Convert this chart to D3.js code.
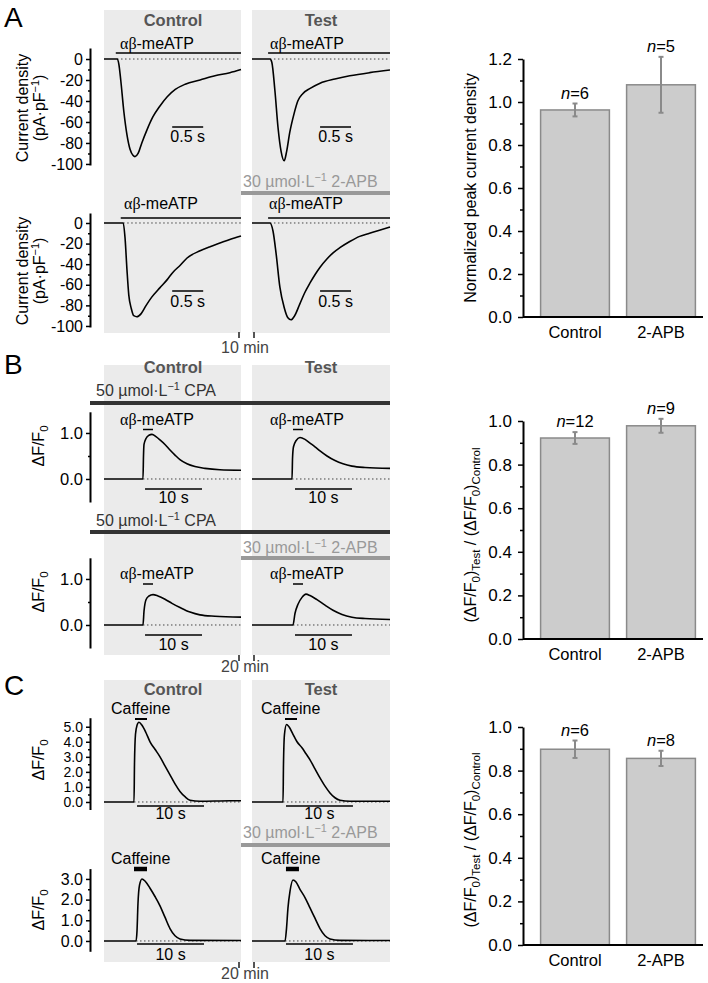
<!DOCTYPE html>
<html><head><meta charset="utf-8">
<script src="https://cdn.jsdelivr.net/npm/d3@7"></script>
<style>body{margin:0;background:#fff} svg text{font-family:"Liberation Sans",Arial,sans-serif}</style>
</head><body><script>
// ---------------- DATA ----------------
// Panel A: current density traces, [time (s), pA/pF]
const traceA1Control = [[0,0],[0.21,0],[0.24,-5],[0.27,-20],[0.32,-50],[0.37,-72],[0.42,-86],[0.47,-92],[0.50,-93],[0.55,-90],[0.61,-80],[0.69,-68],[0.79,-55],[0.90,-45],[1.02,-36],[1.15,-29],[1.31,-24],[1.55,-20],[1.79,-16],[2.03,-13],[2.21,-10]];
const traceA1Test    = [[0,0],[0.29,0],[0.32,-3],[0.37,-30],[0.42,-65],[0.47,-88],[0.52,-97],[0.56,-88],[0.61,-70],[0.68,-52],[0.74,-40],[0.82,-33],[0.94,-28],[1.10,-23],[1.34,-19],[1.58,-16],[1.90,-13],[2.23,-10.5]];
const traceA2Control = [[0,0],[0.31,0],[0.34,-15],[0.37,-45],[0.40,-70],[0.44,-83],[0.48,-90],[0.53,-91],[0.60,-88],[0.68,-80],[0.77,-72],[0.90,-63],[1.02,-55],[1.11,-48],[1.23,-41],[1.34,-34],[1.55,-27],[1.71,-23],[1.87,-19.5],[2.03,-16],[2.21,-12.6]];
const traceA2Test    = [[0,0],[0.29,0],[0.34,-8],[0.39,-30],[0.45,-62],[0.52,-82],[0.58,-92],[0.63,-94],[0.69,-90],[0.77,-79],[0.85,-68],[0.94,-58],[1.02,-50],[1.10,-43],[1.21,-35],[1.31,-29],[1.42,-24],[1.58,-18],[1.74,-13],[1.90,-10],[2.06,-7],[2.23,-4]];
// Panel B: Ca2+ fluorescence, [time (s), ΔF/F0]
const traceB1Control = [[0,0],[6.84,0],[6.93,0.5],[7.02,0.75],[7.37,0.88],[7.89,0.95],[8.42,0.97],[9.12,0.92],[9.82,0.85],[10.70,0.75],[11.58,0.63],[12.46,0.52],[13.33,0.42],[14.56,0.33],[15.96,0.27],[17.72,0.23],[20.35,0.20],[24.04,0.19]];
const traceB1Test    = [[0,0],[7.02,0],[7.11,0.45],[7.28,0.70],[7.72,0.83],[8.42,0.90],[9.30,0.86],[10.18,0.78],[11.05,0.70],[11.93,0.61],[13.16,0.50],[14.56,0.40],[15.96,0.33],[17.54,0.28],[19.82,0.25],[24.21,0.23]];
const traceB2Control = [[0,0],[6.84,0],[7.02,0.30],[7.37,0.55],[7.89,0.63],[8.60,0.66],[9.47,0.63],[10.70,0.56],[11.93,0.47],[13.33,0.38],[15.09,0.28],[16.84,0.22],[19.47,0.19],[24.04,0.17]];
const traceB2Test    = [[0,0],[7.19,0],[7.54,0.25],[8.07,0.45],[8.77,0.60],[9.47,0.67],[10.18,0.64],[11.40,0.55],[12.81,0.43],[14.21,0.32],[15.79,0.23],[17.54,0.17],[19.82,0.14],[24.21,0.12]];
// Panel C: caffeine responses, [time (s), ΔF/F0]
const traceC1Control = [[0,0],[4.48,0],[4.55,2.5],[4.70,4.5],[4.93,5.1],[5.22,5.3],[5.67,5.1],[6.27,4.6],[6.87,4.0],[7.61,3.5],[8.36,3.0],[9.10,2.4],[9.85,1.8],[10.60,1.2],[11.34,0.7],[12.09,0.35],[12.84,0.12],[14.33,0.05],[18.81,0.08],[20.45,0.08]];
const traceC1Test    = [[0,0],[4.63,0],[4.70,2.5],[4.85,4.5],[5.15,5.15],[5.52,5.0],[6.12,4.5],[6.72,4.0],[7.46,3.6],[8.06,3.2],[8.66,2.8],[9.40,2.2],[10.15,1.6],[10.90,1.05],[11.64,0.6],[12.39,0.28],[13.13,0.12],[14.63,0.05],[20.60,0.05]];
const traceC2Control = [[0,0],[4.78,0],[4.93,0.5],[5.07,1.8],[5.30,2.7],[5.67,3.0],[6.12,2.9],[6.87,2.55],[7.61,2.15],[8.36,1.7],[9.10,1.15],[9.85,0.6],[10.60,0.25],[11.34,0.1],[12.84,0.03],[20.45,0.02]];
const traceC2Test    = [[0,0],[4.93,0],[5.15,0.6],[5.37,1.6],[5.67,2.4],[6.12,2.95],[6.57,2.85],[7.16,2.5],[7.91,2.1],[8.66,1.6],[9.40,1.1],[10.15,0.6],[10.90,0.25],[11.64,0.1],[13.13,0.03],[20.60,0.02]];
// Trace axes ticks
const ticksA = [0,-20,-40,-60,-80,-100];
const minorA = [-10,-30,-50,-70,-90];
const ticksB = [0,1];
const minorB = [0.5];
const ticksC1 = [0,1,2,3,4,5];
const minorC1 = [0.5,1.5,2.5,3.5,4.5];
const ticksC2 = [0,1,2,3];
const minorC2 = [0.5,1.5,2.5];
// Bar charts
const barCategories = ["Control","2-APB"];
const barAMean = [0.963,1.080], barASem = [0.030,0.130], barAN = [6,5];
const barBMean = [0.922,0.978], barBSem = [0.027,0.032], barBN = [12,9];
const barCMean = [0.898,0.856], barCSem = [0.040,0.035], barCN = [6,8];
const barATicks = [0,0.2,0.4,0.6,0.8,1.0,1.2];
const barBCTicks = [0,0.2,0.4,0.6,0.8,1.0];

// ---------------- DRAWING ----------------
const svg = d3.select("body").append("svg").attr("width",708).attr("height",983);
const BG = "#ebebeb";
const SANS = '"Liberation Sans",Arial,sans-serif';

function rich(g, x, y, segs, o={}) {
  const size = o.size || 16;
  const t = g.append("text").attr("x",x).attr("y",y).attr("font-size",size).attr("fill",o.fill||"#000");
  if (o.anchor) t.attr("text-anchor",o.anchor);
  if (o.weight) t.attr("font-weight",o.weight);
  if (o.transform) t.attr("transform",o.transform);
  let shift = 0;
  segs.forEach(s => {
    if (typeof s === "string") s = {t:s};
    const sp = t.append("tspan").text(s.t);
    let target = 0, fs = size;
    if (s.sub) { target = size*0.28; fs = size*0.72; }
    if (s.sup) { target = -size*0.38; fs = size*0.68; }
    if (target !== shift) { sp.attr("dy", target - shift); shift = target; }
    if (fs !== size) sp.attr("font-size", fs);
    if (s.it) sp.attr("font-style","italic");
    if (s.serif) sp.attr("font-family",'"Liberation Serif","Times New Roman",serif');
  });
  return t;
}

const ctrlX = [104,241], testX = [252,390];

// gray panels
[[10,333],[365,655],[680,962]].forEach(([y0,y1]) => {
  [ctrlX,testX].forEach(xr => svg.append("rect").attr("x",xr[0]).attr("y",y0)
    .attr("width",xr[1]-xr[0]).attr("height",y1-y0).attr("fill",BG));
});

// panel letters
[["A",27],["B",374],["C",695]].forEach(([l,y]) =>
  svg.append("text").attr("x",4).attr("y",y).attr("font-size",28).text(l));

// headers
[26,373,695].forEach(y => {
  svg.append("text").attr("x",173).attr("y",y).attr("text-anchor","middle").attr("font-size",16.5)
    .attr("font-weight","bold").attr("fill","#555").text("Control");
  svg.append("text").attr("x",321).attr("y",y).attr("text-anchor","middle").attr("font-size",16.5)
    .attr("font-weight","bold").attr("fill","#555").text("Test");
});

// drug bars
function drugBar(text, textY, lineY, x0, color, tx) {
  rich(svg, tx, textY, text, {fill: color});
  svg.append("line").attr("x1",x0).attr("x2",390).attr("y1",lineY).attr("y2",lineY)
    .attr("stroke",color).attr("stroke-width",4);
}
const apb = ["30 µmol·L",{t:"−1",sup:true}," 2-APB"];
const cpa = ["50 µmol·L",{t:"−1",sup:true}," CPA"];
drugBar(apb, 187, 193, 241, "#999", 243);
drugBar(cpa, 396, 403, 90, "#333", 96);
drugBar(cpa, 526, 532, 90, "#333", 96);
drugBar(apb, 553, 558, 241, "#999", 243);
drugBar(apb, 838, 845, 241, "#999", 243);

// break markers + time labels
[[332,353,"10 min"],[655,672,"20 min"],[962,979,"20 min"]].forEach(([y,ty,lab]) => {
  [239,254].forEach(x => svg.append("line").attr("x1",x).attr("x2",x).attr("y1",y).attr("y2",y+6)
    .attr("stroke","#555").attr("stroke-width",2));
  svg.append("text").attr("x",245).attr("y",ty).attr("text-anchor","middle").attr("font-size",16)
    .attr("fill","#444").text(lab);
});

const ab = [{t:"αβ",serif:true},"-meATP"];
const rows = [
  {ctrl:traceA1Control, test:traceA1Test, dur:[2.21,2.23], yDom:[-101,10.5], yRange:[165,48],
   major:ticksA, minor:minorA, fmt:d=>String(d), tfs:16,
   ag:{text:ab, tx:[120,270], ty:49, y:53, ctrl:[0.19,2.21], test:[0.26,2.23], w:1.5},
   sc:{y:127, ctrl:[1.1,1.6], test:[1.1,1.6], label:"0.5 s", ly:142}, ylab:"cur", ylabY:108},
  {ctrl:traceA2Control, test:traceA2Test, dur:[2.21,2.23], yDom:[-101,9.7], yRange:[327,213],
   major:ticksA, minor:minorA, fmt:d=>String(d), tfs:16,
   ag:{text:ab, tx:[124,269], ty:209, y:218, ctrl:[0.27,2.21], test:[0.26,2.23], w:1.5},
   sc:{y:291, ctrl:[1.1,1.6], test:[1.1,1.6], label:"0.5 s", ly:307}, ylab:"cur", ylabY:271},
  {ctrl:traceB1Control, test:traceB1Test, dur:[24.04,24.21], yDom:[-0.5,1.46], yRange:[502,411.8],
   major:ticksB, minor:minorB, fmt:d3.format(".1f"), tfs:16.5,
   ag:{text:ab, tx:[120,270], ty:425, y:429.5, ctrl:[6.84,8.6], test:[7.19,8.95], w:1.5},
   sc:{y:489, ctrl:[7.2,17.2], test:[7.54,17.54], label:"10 s", ly:503}, ylab:"df", ylabY:446},
  {ctrl:traceB2Control, test:traceB2Test, dur:[24.04,24.21], yDom:[-0.5,1.46], yRange:[648,557.8],
   major:ticksB, minor:minorB, fmt:d3.format(".1f"), tfs:16.5,
   ag:{text:ab, tx:[120,270], ty:579, y:584, ctrl:[6.84,8.6], test:[7.19,8.95], w:1.5},
   sc:{y:635, ctrl:[7.2,17.2], test:[7.54,17.54], label:"10 s", ly:650}, ylab:"df", ylabY:592},
  {ctrl:traceC1Control, test:traceC1Test, dur:[20.45,20.6], yDom:[-0.5,5.6], yRange:[809.5,717.7],
   major:ticksC1, minor:minorC1, fmt:d3.format(".1f"), tfs:14,
   ag:{text:["Caffeine"], tx:[111,261], ty:714, y:719, ctrl:[4.63,6.42], test:[4.93,6.72], w:2},
   sc:{y:806, ctrl:[4.93,14.93], test:[5.07,15.07], label:"10 s", ly:819}, ylab:"df", ylabY:760},
  {ctrl:traceC2Control, test:traceC2Test, dur:[20.45,20.6], yDom:[-0.5,3.5], yRange:[951.3,868.6],
   major:ticksC2, minor:minorC2, fmt:d3.format(".1f"), tfs:16,
   ag:{text:["Caffeine"], tx:[111,261], ty:864, y:869, ctrl:[4.48,6.42], test:[5.07,7.01], w:4.5},
   sc:{y:944, ctrl:[4.93,14.93], test:[5.07,15.07], label:"10 s", ly:960}, ylab:"df", ylabY:910},
];

rows.forEach(r => {
  const y = d3.scaleLinear().domain(r.yDom).range(r.yRange);
  // axis
  const g = svg.append("g").attr("transform","translate(90,0)");
  g.call(d3.axisLeft(y).tickValues(r.major).tickSize(4).tickSizeOuter(0).tickPadding(3).tickFormat(r.fmt));
  g.append("g").call(d3.axisLeft(y).tickValues(r.minor).tickSize(2).tickSizeOuter(0).tickFormat(""))
    .select(".domain").remove();
  g.selectAll(".domain").attr("stroke-width",2);
  g.selectAll(".tick line").attr("stroke-width",1.5);
  g.selectAll(".tick text").attr("font-size",r.tfs).attr("font-family",SANS);
  // y label
  if (r.ylab === "cur") {
    rich(svg, 0, 0, ["Current density"], {anchor:"middle", transform:`translate(28,${r.ylabY}) rotate(-90)`});
    rich(svg, 0, 0, ["(pA·pF",{t:"−1",sup:true},")"], {anchor:"middle", transform:`translate(45,${r.ylabY}) rotate(-90)`});
  } else {
    rich(svg, 0, 0, ["ΔF/F",{t:"0",sub:true}], {anchor:"middle", transform:`translate(44,${r.ylabY}) rotate(-90)`});
  }
  [["ctrl",ctrlX,0],["test",testX,1]].forEach(([k,xr,i]) => {
    const x = d3.scaleLinear().domain([0, r.dur[i]]).range(xr);
    const data = r[k];
    const onset = data.find(d => d[1] !== 0 && d[0] > 0);
    const onsetT = data[data.indexOf(onset)-1][0];
    // dotted zero line
    svg.append("line").attr("x1",x(onsetT)).attr("x2",xr[1]).attr("y1",y(0)).attr("y2",y(0))
      .attr("stroke","#444").attr("stroke-width",1).attr("stroke-dasharray","1.5,2.5");
    // trace
    svg.append("path").datum(data).attr("fill","none").attr("stroke","#000").attr("stroke-width",1.6)
      .attr("stroke-linejoin","round")
      .attr("d", d3.line().x(d=>x(d[0])).y(d=>y(d[1])).curve(d3.curveMonotoneX));
    // agonist
    rich(svg, r.ag.tx[i], r.ag.ty, r.ag.text);
    svg.append("line").attr("x1",x(r.ag[k][0])).attr("x2",x(r.ag[k][1])).attr("y1",r.ag.y).attr("y2",r.ag.y)
      .attr("stroke","#000").attr("stroke-width",r.ag.w);
    // scale bar
    const s0 = x(r.sc[k][0]), s1 = x(r.sc[k][1]);
    svg.append("line").attr("x1",s0).attr("x2",s1).attr("y1",r.sc.y).attr("y2",r.sc.y)
      .attr("stroke","#000").attr("stroke-width",1.5);
    svg.append("text").attr("x",(s0+s1)/2).attr("y",r.sc.ly).attr("text-anchor","middle")
      .attr("font-size",16).text(r.sc.label);
  });
});

// ---------------- BAR CHARTS ----------------
function barChart(mean, sem, n, ticks, max, y0, y1, ylabSegs, ylabY) {
  const x = d3.scaleBand().domain(barCategories).range([532,704]).paddingInner(0.2).paddingOuter(0.1);
  const y = d3.scaleLinear().domain([0,max]).range([y0,y1]);
  const g = svg.append("g");
  g.selectAll("rect").data(barCategories).join("rect")
    .attr("x",d=>x(d)).attr("width",x.bandwidth())
    .attr("y",(d,i)=>y(mean[i])).attr("height",(d,i)=>y(0)-y(mean[i]))
    .attr("fill","#cccccc").attr("stroke","#8a8a8a").attr("stroke-width",1.5);
  barCategories.forEach((c,i) => {
    const cx = x(c) + x.bandwidth()/2;
    const top = y(mean[i]+sem[i]), bot = y(mean[i]-sem[i]);
    g.append("line").attr("x1",cx).attr("x2",cx).attr("y1",top).attr("y2",bot).attr("stroke","#8a8a8a").attr("stroke-width",2);
    [top,bot].forEach(v => g.append("line").attr("x1",cx-2.5).attr("x2",cx+2.5).attr("y1",v).attr("y2",v)
      .attr("stroke","#8a8a8a").attr("stroke-width",2));
    rich(g, cx, top-5, [{t:"n",it:true},"="+n[i]], {anchor:"middle", size:16.5});
  });
  // x baseline
  g.append("line").attr("x1",523).attr("x2",703).attr("y1",y(0)).attr("y2",y(0)).attr("stroke","#000").attr("stroke-width",2);
  const xa = g.append("g").attr("transform",`translate(0,${y(0)})`)
    .call(d3.axisBottom(x).tickSize(0).tickPadding(9));
  xa.select(".domain").remove();
  xa.selectAll("text").attr("font-size",16.5).attr("font-family",SANS);
  // y axis
  const minor = d3.range(0.1, max, 0.2);
  const ya = g.append("g").attr("transform","translate(523,0)")
    .call(d3.axisLeft(y).tickValues(ticks).tickSize(5).tickSizeOuter(0).tickPadding(6).tickFormat(d3.format(".1f")));
  ya.append("g").call(d3.axisLeft(y).tickValues(minor).tickSize(3).tickSizeOuter(0).tickFormat("")).select(".domain").remove();
  ya.selectAll(".domain").attr("stroke-width",2);
  ya.selectAll(".tick line").attr("stroke-width",1.5);
  ya.selectAll(".tick text").attr("font-size",17).attr("font-family",SANS);
  rich(svg, 0, 0, ylabSegs, {anchor:"middle", transform:`translate(476,${ylabY}) rotate(-90)`});
}
const ratioLab = ["(ΔF/F",{t:"0",sub:true},")",{t:"Test",sub:true}," / (ΔF/F",{t:"0",sub:true},")",{t:"Control",sub:true}];
barChart(barAMean, barASem, barAN, barATicks, 1.2, 317, 59, ["Normalized peak current density"], 188);
barChart(barBMean, barBSem, barBN, barBCTicks, 1.0, 639, 421, ratioLab, 535);
barChart(barCMean, barCSem, barCN, barBCTicks, 1.0, 945, 727, ratioLab, 840);
</script></body></html>
